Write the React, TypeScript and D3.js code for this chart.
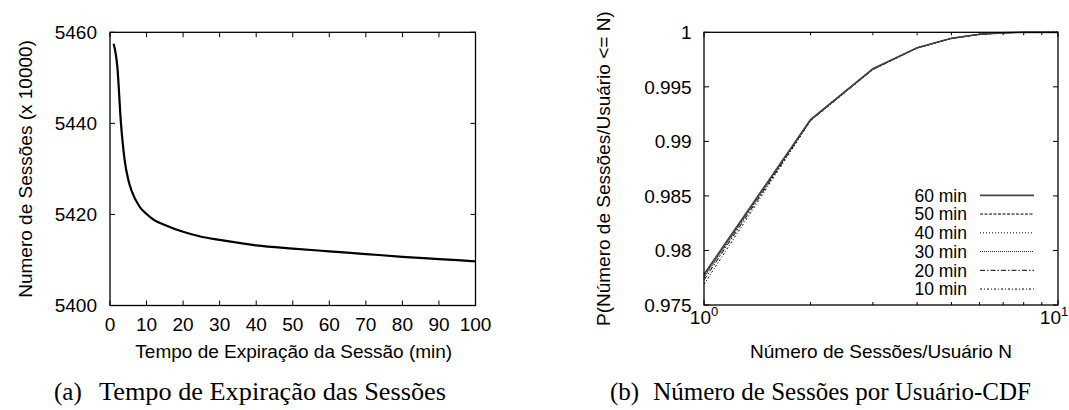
import React from "react";
import * as d3 from "d3";

// ---------- data: chart (a) ----------
const expTimes = [1, 2, 3, 4, 5, 6, 8, 10, 12, 15, 20, 25, 30, 40, 50, 60, 70, 80, 90, 100];
const sessionCounts = [5457.5, 5452.5, 5440.0, 5432.0, 5427.6, 5425.0, 5421.8, 5420.1, 5418.8, 5417.7, 5416.2, 5415.1, 5414.4, 5413.2, 5412.5, 5411.9, 5411.3, 5410.7, 5410.2, 5409.7];
const xTicksA = [0, 10, 20, 30, 40, 50, 60, 70, 80, 90, 100];
const yTicksA = [5400, 5420, 5440, 5460];

// ---------- data: chart (b) ----------
const sessionsN = [1, 2, 3, 4, 5, 6, 7, 8, 9, 10];
const cdf60 = [0.9778, 0.9920, 0.99665, 0.99858, 0.99945, 0.99982, 0.99995, 1.0, 1.0, 1.0];
const cdf50 = [0.9777, 0.99198, 0.99664, 0.99858, 0.99945, 0.99982, 0.99995, 1.0, 1.0, 1.0];
const cdf40 = [0.9776, 0.99196, 0.99663, 0.99857, 0.99944, 0.99982, 0.99995, 1.0, 1.0, 1.0];
const cdf30 = [0.9775, 0.99194, 0.99662, 0.99857, 0.99944, 0.99981, 0.99995, 1.0, 1.0, 1.0];
const cdf20 = [0.9773, 0.99192, 0.9966, 0.99856, 0.99944, 0.99981, 0.99995, 1.0, 1.0, 1.0];
const cdf10 = [0.9769, 0.99188, 0.99658, 0.99855, 0.99943, 0.99981, 0.99995, 1.0, 1.0, 1.0];
const seriesLabels = ["60 min", "50 min", "40 min", "30 min", "20 min", "10 min"];
const yTicksB = [0.975, 0.98, 0.985, 0.99, 0.995, 1];
const yTickLabelsB = ["0.975", "0.98", "0.985", "0.99", "0.995", "1"];

const SANS = "'Liberation Sans', Arial, Helvetica, sans-serif";
const SERIF = "'Liberation Serif', 'Times New Roman', serif";

const seriesStyles = [
  { dash: "", width: 1.7, color: "#444" },
  { dash: "3,1.5", width: 1, color: "#000" },
  { dash: "1,2", width: 1, color: "#000" },
  { dash: "1,1", width: 1, color: "#222" },
  { dash: "5,2,1.5,2", width: 1, color: "#000" },
  { dash: "2,2,1,2", width: 1, color: "#000" },
];

export default function App() {
  const FS = 19; // tick labels
  const FT = 19; // axis titles
  const FL = 17.5; // legend
  // ---- chart (a) ----
  const ax = d3.scaleLinear().domain([0, 100]).range([110, 475.5]);
  const ay = d3.scaleLinear().domain([5400, 5460]).range([305.5, 32.3]);
  const lineA = d3
    .line<number>()
    .x((d, i) => ax(expTimes[i]))
    .y((d) => ay(d))
    .curve(d3.curveMonotoneX);

  // ---- chart (b) ----
  const bx = d3.scaleLog().domain([1, 10]).range([704, 1058]);
  const by = d3.scaleLinear().domain([0.975, 1]).range([305, 32.3]);
  const lineB = d3
    .line<number>()
    .x((d, i) => bx(sessionsN[i]))
    .y((d) => by(d));
  const allSeries = [cdf60, cdf50, cdf40, cdf30, cdf20, cdf10];
  const minorTicks = [2, 3, 4, 5, 6, 7, 8, 9];
  const tick = 5;
  const minor = 3;

  const [ax0, ax1] = ax.range();
  const [ay0, ay1] = ay.range();
  const [bx0, bx1] = bx.range();
  const [by0, by1] = by.range();

  return (
    <svg width={1069} height={410} style={{ position: "absolute", left: 0, top: 0, background: "#fff" }}>
      <rect x={0} y={0} width={1069} height={410} fill="#fff" />
      {/* ===== chart (a) ===== */}
      <g>
        {xTicksA.map((t) => (
          <g key={"xa" + t}>
            <line x1={ax(t)} x2={ax(t)} y1={ay0} y2={ay0 - tick} stroke="#000" strokeWidth={1} />
            <line x1={ax(t)} x2={ax(t)} y1={ay1} y2={ay1 + tick} stroke="#000" strokeWidth={1} />
            <text x={ax(t)} y={331} textAnchor="middle" fontFamily={SANS} fontSize={FS}>
              {t}
            </text>
          </g>
        ))}
        {yTicksA.map((t) => (
          <g key={"ya" + t}>
            <line x1={ax0} x2={ax0 + tick} y1={ay(t)} y2={ay(t)} stroke="#000" strokeWidth={1} />
            <line x1={ax1} x2={ax1 - tick} y1={ay(t)} y2={ay(t)} stroke="#000" strokeWidth={1} />
            <text x={97} y={ay(t) + 6.8} textAnchor="end" fontFamily={SANS} fontSize={FS}>
              {t}
            </text>
          </g>
        ))}
        <path d={lineA(sessionCounts) || ""} fill="none" stroke="#000" strokeWidth={2.2} />
        <rect x={ax0} y={ay1} width={ax1 - ax0} height={ay0 - ay1} fill="none" stroke="#000" strokeWidth={1.3} />
        <text x={(ax0 + ax1) / 2 + 1} y={358} textAnchor="middle" fontFamily={SANS} fontSize={FT}>
          Tempo de Expiração da Sessão (min)
        </text>
        <text
          transform={`translate(31.5,${(ay0 + ay1) / 2}) rotate(-90)`}
          textAnchor="middle"
          fontFamily={SANS}
          fontSize={FT}
        >
          Numero de Sessões (x 10000)
        </text>
        <text x={54} y={400} textAnchor="start" fontFamily={SERIF} fontSize={25}>
          (a)
        </text>
        <text x={99} y={400} textAnchor="start" fontFamily={SERIF} fontSize={25} textLength={347} lengthAdjust="spacingAndGlyphs">
          Tempo de Expiração das Sessões
        </text>
      </g>

      {/* ===== chart (b) ===== */}
      <g>
        {[1, 10].map((t) => (
          <g key={"xb" + t}>
            <line x1={bx(t)} x2={bx(t)} y1={by0} y2={by0 - tick} stroke="#000" strokeWidth={1} />
            <line x1={bx(t)} x2={bx(t)} y1={by1} y2={by1 + tick} stroke="#000" strokeWidth={1} />
          </g>
        ))}
        {minorTicks.map((t) => (
          <g key={"mb" + t}>
            <line x1={bx(t)} x2={bx(t)} y1={by0} y2={by0 - minor} stroke="#000" strokeWidth={1} />
            <line x1={bx(t)} x2={bx(t)} y1={by1} y2={by1 + minor} stroke="#000" strokeWidth={1} />
          </g>
        ))}
        {[1, 10].map((t, i) => (
          <text key={"xbl" + t} x={bx(t) - (i === 1 ? 4 : 0)} y={324} textAnchor="middle" fontFamily={SANS} fontSize={FS}>
            10<tspan dy={-8} fontSize={13}>{i}</tspan>
          </text>
        ))}
        {yTicksB.map((t, i) => (
          <g key={"yb" + t}>
            <line x1={bx0} x2={bx0 + tick} y1={by(t)} y2={by(t)} stroke="#000" strokeWidth={1} />
            <line x1={bx1} x2={bx1 - tick} y1={by(t)} y2={by(t)} stroke="#000" strokeWidth={1} />
            <text x={691.7} y={by(t) + 6.8} textAnchor="end" fontFamily={SANS} fontSize={FS}>
              {yTickLabelsB[i]}
            </text>
          </g>
        ))}
        {allSeries
          .map((s, i) => (
            <path
              key={"s" + i}
              d={lineB(s) || ""}
              fill="none"
              stroke={seriesStyles[i].color}
              strokeWidth={seriesStyles[i].width}
              strokeDasharray={seriesStyles[i].dash}
            />
          ))
          .reverse()}
        {seriesLabels.map((lab, i) => {
          const yy = 195.3 + i * 18.75;
          return (
            <g key={"lg" + i}>
              <text x={967} y={yy + 6.3} textAnchor="end" fontFamily={SANS} fontSize={FL}>
                {lab}
              </text>
              <line
                x1={980}
                x2={1034}
                y1={yy}
                y2={yy}
                stroke={seriesStyles[i].color}
                strokeWidth={seriesStyles[i].width}
                strokeDasharray={seriesStyles[i].dash}
              />
            </g>
          );
        })}
        <rect x={bx0} y={by1} width={bx1 - bx0} height={by0 - by1} fill="none" stroke="#000" strokeWidth={1.3} />
        <text x={(bx0 + bx1) / 2} y={358} textAnchor="middle" fontFamily={SANS} fontSize={FT}>
          Número de Sessões/Usuário N
        </text>
        <text
          transform={`translate(610,${(by0 + by1) / 2}) rotate(-90)`}
          textAnchor="middle"
          fontFamily={SANS}
          fontSize={FT}
        >
          P(Número de Sessões/Usuário &lt;= N)
        </text>
        <text x={610} y={400} textAnchor="start" fontFamily={SERIF} fontSize={25}>
          (b)<tspan dx={14}>Número de Sessões por Usuário-CDF</tspan>
        </text>
      </g>
    </svg>
  );
}
